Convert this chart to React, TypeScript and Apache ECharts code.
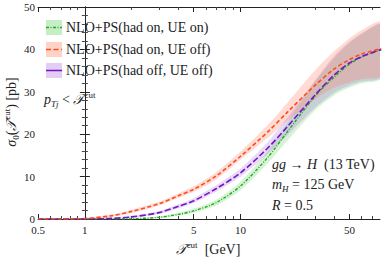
import React, { useEffect, useRef } from "react";
import * as echarts from "echarts";

// ---- data ----
const T = [0.5, 0.7, 1, 1.5, 2, 3, 4, 5, 7, 10, 15, 20, 30, 40, 50, 60, 80];

const greenMid = [0, 0, 0, 0, 0.05, 0.4, 1.1, 1.9, 3.9, 7.8, 14.6, 20.6, 28.9, 33.5, 36.5, 38.2, 39.9];
const greenUp = [0, 0, 0, 0.05, 0.15, 0.65, 1.5, 2.4, 4.6, 8.8, 16.1, 22.8, 32.4, 38, 41.5, 43.6, 45.8];
const greenLo = [0, 0, 0, 0, 0, 0.2, 0.75, 1.45, 3.2, 6.8, 13.2, 18.5, 25.6, 29.2, 31, 32, 33.2];

const redMid = [0, 0, 0.1, 0.8, 1.8, 3.6, 5.5, 7, 10.2, 14.8, 20.6, 25.2, 31.5, 35.4, 37.6, 38.9, 40.2];
const redUp = [0.1, 0.1, 0.25, 1.1, 2.2, 4.1, 6.1, 7.7, 11.1, 15.9, 22.2, 27.4, 35.0, 39.6, 42.6, 44.6, 46.5];
const redLo = [0, 0, 0, 0.55, 1.45, 3.2, 5, 6.4, 9.4, 14.0, 19.2, 23.2, 28.2, 31, 32.2, 33, 33.8];

const purpleMid = [0, 0, 0, 0.15, 0.5, 1.5, 3, 4.3, 7.2, 10.9, 16.8, 21.8, 29.2, 34, 36.8, 38.3, 40];
const purpleUp = [0, 0, 0.05, 0.3, 0.75, 1.9, 3.5, 4.9, 8, 11.9, 18.2, 24.0, 32.6, 38.5, 41.8, 43.8, 46];
const purpleLo = [0, 0, 0, 0.05, 0.3, 1.15, 2.55, 3.8, 6.5, 10.0, 15.4, 19.8, 26.2, 29.8, 31.5, 32.4, 33.4];

const xMajorTicks = [0.5, 1, 5, 10, 50];
const xMinorTicks = [0.6, 0.7, 0.8, 0.9, 2, 3, 4, 6, 7, 8, 9, 20, 30, 40, 60, 70];
const X_MIN = 0.5;
const X_MAX = 78.6;
const Y_MIN = 0;
const Y_MAX = 50;
const Y_STEP = 10;

const legendLabels = [
  "NLO+PS(had on, UE on)",
  "NLO+PS(had on, UE off)",
  "NLO+PS(had off, UE off)",
];

const GREEN = "#1faa1f";
const RED = "#ff4a1c";
const PURPLE = "#7414c8";

const SERIF = "Liberation Serif";

const lg = (v: number) => Math.log10(v);

function pts(ys: number[]) {
  return T.map((t, i) => [lg(t), ys[i]]);
}

function band(up: number[], lo: number[], color: string, z: number) {
  return {
    type: "custom",
    coordinateSystem: "cartesian2d",
    xAxisIndex: 0,
    yAxisIndex: 0,
    data: [[lg(T[0]), lo[0]]],
    clip: true,
    silent: true,
    z,
    renderItem: (_params: any, api: any) => {
      const top = T.map((t, i) => api.coord([lg(t), up[i]]));
      const bot = T.map((t, i) => api.coord([lg(t), lo[i]])).reverse();
      return {
        type: "polygon",
        shape: { points: top.concat(bot), smooth: 0.25 },
        style: { fill: color },
      };
    },
  };
}

function curve(name: string, ys: number[], color: string, dash: number[], width: number, z: number) {
  return {
    type: "line",
    name,
    data: pts(ys),
    symbol: "none",
    smooth: 0.3,
    lineStyle: { color, width, type: dash },
    z,
  };
}

export default function App() {
  const ref = useRef<HTMLDivElement>(null);
  useEffect(() => {
    document.body.style.margin = "0";
    if (!ref.current) return;
    const chart = echarts.init(ref.current, undefined, { renderer: "svg" });

    const baseX = {
      type: "value",
      min: lg(X_MIN),
      max: lg(X_MAX),
      splitLine: { show: false },
    };
    const fmt = (v: number) => String(Number(Math.pow(10, v).toPrecision(2)));

    const richBase = {
      n: { fontFamily: SERIF, fontSize: 14, lineHeight: 18, fill: "#222" },
      i: { fontFamily: SERIF, fontSize: 14, fontStyle: "italic", lineHeight: 18, fill: "#222" },
      sup: { fontFamily: SERIF, fontSize: 9, lineHeight: 10, verticalAlign: "top", fill: "#222" },
      sub: { fontFamily: SERIF, fontSize: 9, fontStyle: "italic", lineHeight: 10, verticalAlign: "bottom", fill: "#222" },
      subn: { fontFamily: SERIF, fontSize: 9, lineHeight: 10, verticalAlign: "bottom", fill: "#222" },
    };

    const textG = (x: number, y: number, text: string, extra: any = {}) => ({
      type: "text",
      x,
      y,
      style: {
        text,
        rich: richBase,
        fill: "#222",
        fontFamily: SERIF,
        fontSize: 14,
        verticalAlign: "middle",
        align: "left",
        ...extra,
      },
      z: 101,
    });

    const legendColors = [
      { sw: "#c6eec6", line: GREEN, dash: [3, 1.5, 1, 1.5] },
      { sw: "#fdd3c6", line: RED, dash: [5, 2.5] },
      { sw: "#e2cdf3", line: PURPLE, dash: [12, 0] },
    ];
    const legendGraphics: any[] = [];
    const rowY = [27.5, 49.5, 70.5];
    legendLabels.forEach((lab, i) => {
      const c = legendColors[i];
      legendGraphics.push({
        type: "rect",
        shape: { x: 46, y: rowY[i] - 7.5, width: 16, height: 15 },
        style: { fill: c.sw },
        z: 100,
      });
      legendGraphics.push({
        type: "line",
        shape: { x1: 46, y1: rowY[i], x2: 62, y2: rowY[i] },
        style: { stroke: c.line, lineWidth: 1.5, lineDash: c.dash },
        z: 101,
      });
      legendGraphics.push(textG(66, rowY[i], "{n|" + lab + "}"));
    });

    chart.setOption({
      animation: false,
      grid: { left: 38, right: 2, top: 7, bottom: 40, containLabel: false },
      xAxis: [
        {
          ...baseX,
          position: "bottom",
          axisLine: { show: true, lineStyle: { color: "#222", width: 1 } },
          axisTick: { inside: true, length: 5, customValues: xMajorTicks.map(lg), lineStyle: { color: "#222" } },
          axisLabel: {
            customValues: xMajorTicks.map(lg),
            formatter: fmt,
            fontFamily: SERIF,
            fontSize: 11,
            color: "#222",
            margin: 5,
          },
        },
        {
          ...baseX,
          position: "bottom",
          axisLine: { show: false },
          axisTick: { inside: true, length: 3, customValues: xMinorTicks.map(lg), lineStyle: { color: "#444" } },
          axisLabel: { show: false },
        },
        {
          ...baseX,
          position: "top",
          axisLine: { show: true, lineStyle: { color: "#222", width: 1 } },
          axisTick: { inside: true, length: 5, customValues: xMajorTicks.map(lg), lineStyle: { color: "#222" } },
          axisLabel: { show: false },
        },
        {
          ...baseX,
          position: "top",
          axisLine: { show: false },
          axisTick: { inside: true, length: 3, customValues: xMinorTicks.map(lg), lineStyle: { color: "#444" } },
          axisLabel: { show: false },
        },
      ],
      yAxis: [
        {
          type: "value",
          min: Y_MIN,
          max: Y_MAX,
          interval: Y_STEP,
          position: "left",
          splitLine: { show: false },
          axisLine: { show: true, lineStyle: { color: "#222", width: 1 } },
          axisTick: { inside: true, length: 5, lineStyle: { color: "#222" } },
          minorTick: { show: true, splitNumber: 5, length: 3, lineStyle: { color: "#444" } },
          axisLabel: { fontFamily: SERIF, fontSize: 11, color: "#222", margin: 3, padding: [0, 0, 3, 0] },
        },
        {
          type: "value",
          min: Y_MIN,
          max: Y_MAX,
          interval: Y_STEP,
          position: "right",
          splitLine: { show: false },
          axisLine: { show: true, lineStyle: { color: "#222", width: 1 } },
          axisTick: { inside: true, length: 5, lineStyle: { color: "#222" } },
          minorTick: { show: true, splitNumber: 5, length: 3, lineStyle: { color: "#444" } },
          axisLabel: { show: false },
        },
      ],
      series: [
        band(greenUp, greenLo, "rgba(70,200,70,0.22)", 1),
        band(purpleUp, purpleLo, "rgba(150,80,220,0.22)", 2),
        band(redUp, redLo, "rgba(255,110,80,0.25)", 3),
        curve(legendLabels[0], greenMid, GREEN, [3, 1.5, 1, 1.5], 1.4, 5),
        curve(legendLabels[2], purpleMid, PURPLE, [6, 2.5], 1.6, 6),
        curve(legendLabels[1], redMid, RED, [4, 2.5], 1.6, 7),
      ],
      graphic: [
        ...legendGraphics,
        textG(44, 99, "{i|p}{sub|Tj}{n| < }{i|𝒯}{sup|cut}"),
        textG(272, 164, "{i|gg}{n| → }{i|H}{n|  (13 TeV)}"),
        textG(272, 184, "{i|m}{sub|H}{n| = 125 GeV}"),
        textG(272, 205, "{i|R}{n| = 0.5}"),
        textG(208, 249, "{i|𝒯}{sup|cut}{n|  [GeV]}", { align: "center" }),
        {
          type: "text",
          x: 11,
          y: 112,
          rotation: Math.PI / 2,
          style: {
            text: "{i|σ}{subn|0}{n|(}{i|𝒯}{sup|cut}{n|) [pb]}",
            rich: richBase,
            fontFamily: SERIF,
            fontSize: 14,
            fill: "#222",
            align: "center",
            verticalAlign: "middle",
          },
          z: 101,
        },
      ],
    });
    return () => chart.dispose();
  }, []);
  return <div ref={ref} style={{ width: 382, height: 259 }} />;
}
